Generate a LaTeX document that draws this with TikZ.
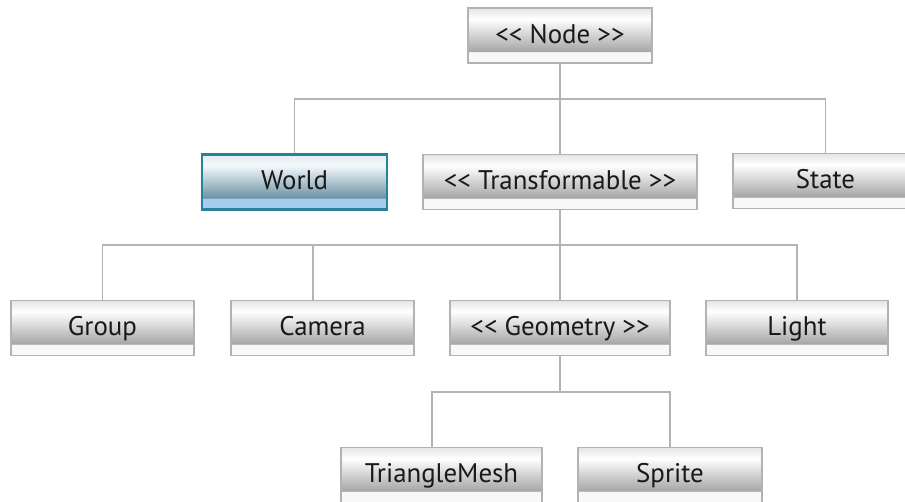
\documentclass[tikz,border=0pt]{standalone}
\usepackage{fontspec}
\setmainfont{PT Sans}

\definecolor{boxline}{HTML}{B2B2B2}
\definecolor{linkgray}{HTML}{B4B4B4}
\definecolor{topgray}{HTML}{E4E4E4}
\definecolor{shadegray}{HTML}{A6A6A6}
\definecolor{stripgray}{HTML}{F8F8F8}
\definecolor{worldline}{HTML}{2A8199}
\definecolor{worldtop}{HTML}{E2EDF2}
\definecolor{worldshade}{HTML}{6C93A5}
\definecolor{worldstrip}{HTML}{A6CDF0}

\pgfdeclareverticalshading{grayshade}{100bp}{color(0bp)=(stripgray); color(35bp)=(stripgray); color(35.6bp)=(shadegray); color(65bp)=(white); color(75bp)=(topgray); color(100bp)=(topgray)}
\pgfdeclareverticalshading{worldshading}{100bp}{color(0bp)=(worldstrip); color(35bp)=(worldstrip); color(35.6bp)=(worldshade); color(65bp)=(white!60!worldtop); color(75bp)=(worldtop); color(100bp)=(worldtop)}

\newcommand{\stereo}[1]{{<}{<}~#1~{>}{>}}

\begin{document}
\begin{tikzpicture}[x=0.02cm, y=-0.02cm,
  classbox/.style={draw=boxline, line width=1.1pt, shade, shading=grayshade,
    minimum height=1.1cm, inner sep=0pt, text height=12pt, text depth=3pt,
    font=\fontsize{15.3}{18}\selectfont, text=black!90},
  worldbox/.style={classbox, draw=worldline, line width=1.4pt, shading=worldshading},
  link/.style={draw=linkgray, line width=1.1pt}]

\useasboundingbox (0,0) rectangle (905,501);
\clip (0,0) rectangle (905,501);

% first level
\node[classbox, minimum width=3.68cm] (node) at (560,35.5) {\stereo{Node}};

\coordinate (busA) at (560,99);
\draw[link] (node.south) -- (busA);

\node[worldbox, minimum width=3.7cm]  (world)  at (294.5,182) {World};
\node[classbox, minimum width=5.48cm] (transf) at (560,182)   {\stereo{Transformable}};
\node[classbox, minimum width=3.7cm]  (state)  at (825.5,181) {State};

\draw[link] (busA) -| (world.north);
\draw[link] (busA) -| (state.north);
\draw[link] (busA) -- (transf.north);

% second level
\coordinate (busB) at (560,245);
\draw[link] (transf.south) -- (busB);

\node[classbox, minimum width=3.66cm] (group)    at (102.5,328) {Group};
\node[classbox, minimum width=3.66cm] (camera)   at (322.5,328) {Camera};
\node[classbox, minimum width=4.4cm]  (geometry) at (560,328)   {\stereo{Geometry}};
\node[classbox, minimum width=3.64cm] (light)    at (797,328)   {Light};

\draw[link] (busB) -| (group.north);
\draw[link] (busB) -| ([xshift=-0.19cm]camera.north);
\draw[link] (busB) -- (geometry.north);
\draw[link] (busB) -| (light.north);

% third level
\coordinate (busC) at (560,392);
\draw[link] (geometry.south) -- (busC);

\node[classbox, minimum width=4.02cm] (mesh)   at (441.5,475) {TriangleMesh};
\node[classbox, minimum width=3.68cm] (sprite) at (670,475)   {Sprite};

\draw[link] (busC) -| ([xshift=-0.19cm]mesh.north);
\draw[link] (busC) -| (sprite.north);

\end{tikzpicture}
\end{document}
